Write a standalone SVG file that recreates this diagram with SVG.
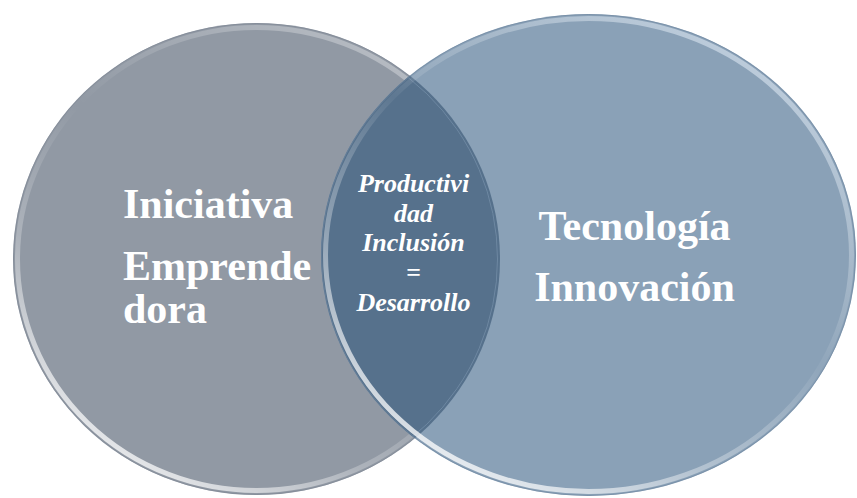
<svg xmlns="http://www.w3.org/2000/svg" width="857" height="498" viewBox="0 0 857 498">
<style>
.t{font-family:"Liberation Serif","Times New Roman",serif;font-weight:bold;fill:#ffffff;}
.big{font-size:42px;}
.mid{font-size:26px;font-style:italic;text-anchor:middle;}
.rim{fill:none;stroke-width:5;}
.edge{fill:none;stroke-width:1;}
</style>
<defs>
<linearGradient id="hl" x1="0.85" y1="0" x2="0.15" y2="1">
<stop offset="0" stop-color="#ffffff" stop-opacity="0.4"/>
<stop offset="0.45" stop-color="#ffffff" stop-opacity="0"/>
<stop offset="0.7" stop-color="#ffffff" stop-opacity="0.25"/>
<stop offset="1" stop-color="#ffffff" stop-opacity="0.95"/>
</linearGradient>
<linearGradient id="hlR" x1="0.85" y1="0" x2="0.15" y2="1">
<stop offset="0" stop-color="#eaf4ff" stop-opacity="0.6"/>
<stop offset="0.45" stop-color="#ffffff" stop-opacity="0.05"/>
<stop offset="0.7" stop-color="#ffffff" stop-opacity="0.35"/>
<stop offset="1" stop-color="#ffffff" stop-opacity="0.95"/>
</linearGradient>
<clipPath id="clipR">
<ellipse cx="588.5" cy="255" rx="267.5" ry="241"/>
</clipPath>
</defs>
<rect width="857" height="498" fill="#ffffff"/>
<g id="circle-left">
<ellipse cx="256.5" cy="259" rx="243.5" ry="236" fill="#9199a4"/>
<ellipse class="edge" cx="256.5" cy="259" rx="243" ry="235.5" stroke="#7f8794" stroke-opacity="0.6"/>
<ellipse class="rim" cx="256.5" cy="259" rx="239" ry="231.5" stroke="url(#hl)"/>
</g>
<g id="circle-right">
<ellipse cx="588.5" cy="255" rx="267.5" ry="241" fill="#8aa1b7"/>
<g id="intersection">
<ellipse clip-path="url(#clipR)" cx="256.5" cy="259" rx="243.5" ry="236" fill="#56718c"/>
<ellipse clip-path="url(#clipR)" class="edge" cx="256.5" cy="259" rx="241" ry="233.5" stroke="#7891ab" stroke-opacity="0.7"/>
</g>
<ellipse class="edge" cx="588.5" cy="255" rx="267" ry="240.5" stroke="#6f87a0" stroke-opacity="0.6"/>
<ellipse class="rim" cx="588.5" cy="255" rx="263" ry="236.5" stroke="url(#hlR)"/>
</g>
<g id="label-left">
<text class="t big" x="123" y="218">Iniciativa</text>
<text class="t big" x="123" y="280">Emprende</text>
<text class="t big" x="123" y="323">dora</text>
</g>
<g id="label-right">
<text class="t big" x="634.5" y="240" text-anchor="middle">Tecnología</text>
<text class="t big" x="634.5" y="301" text-anchor="middle">Innovación</text>
</g>
<g id="label-center">
<text class="t mid" x="413.5" y="192">Productivi</text>
<text class="t mid" x="413.5" y="222">dad</text>
<text class="t mid" x="413.5" y="251">Inclusión</text>
<text class="t mid" x="413.5" y="281">=</text>
<text class="t mid" x="413.5" y="311">Desarrollo</text>
</g>
<g id="connectors"></g>
</svg>
